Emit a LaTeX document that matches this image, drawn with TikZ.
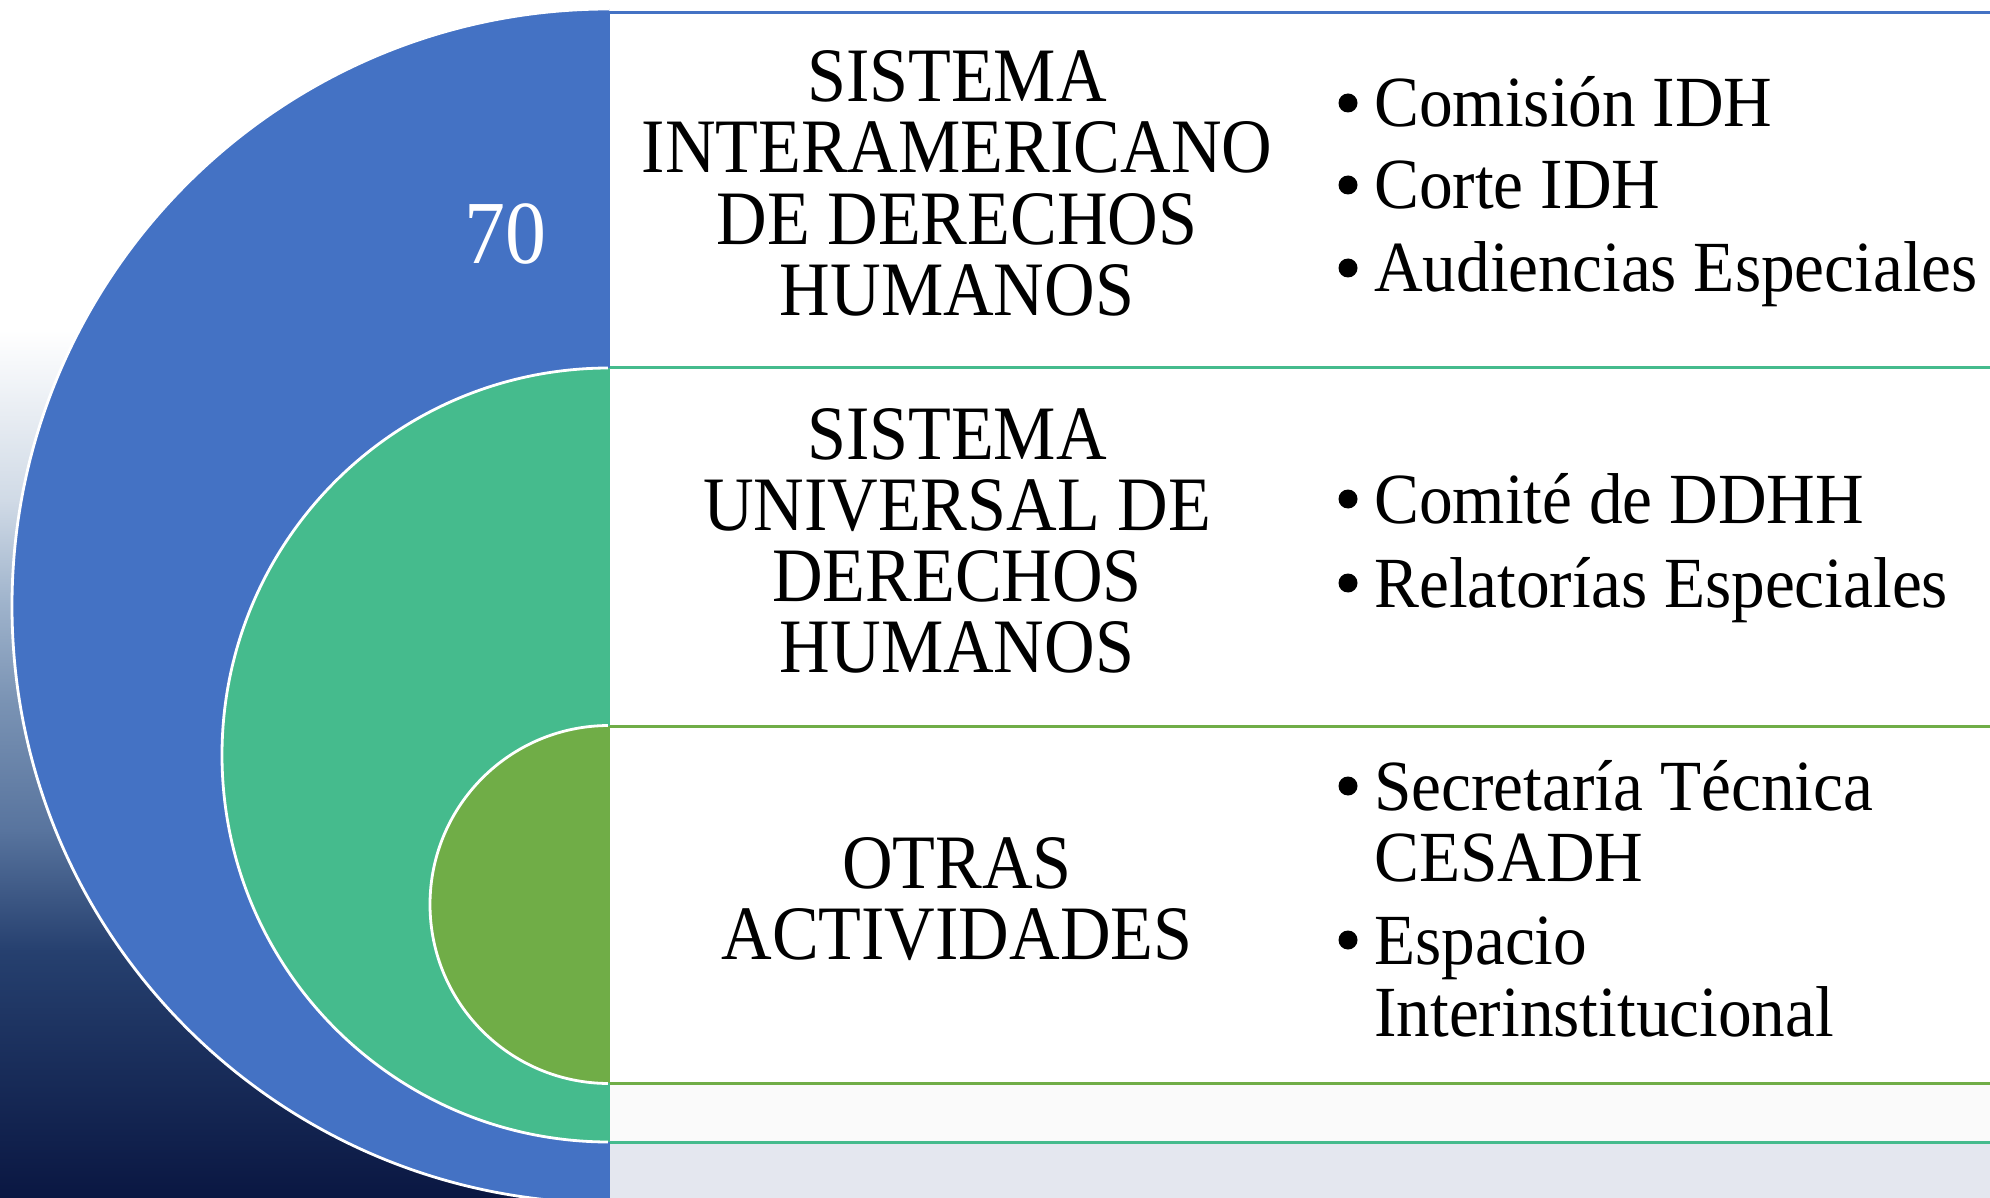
\documentclass[tikz,border=0pt]{standalone}
\usepackage{fontspec}
\setmainfont[FakeStretch=0.91]{Liberation Serif}
\newfontfamily\itemfont[FakeStretch=0.935]{Liberation Serif}
\definecolor{blueC}{HTML}{4472C4}
\definecolor{greenC}{HTML}{45BB8D}
\definecolor{oliveC}{HTML}{70AD47}
\definecolor{bgA}{HTML}{D0DAE6}
\definecolor{bgB}{HTML}{A0B4CC}
\definecolor{bgC}{HTML}{7A93B4}
\definecolor{bgD}{HTML}{58749E}
\definecolor{bgE}{HTML}{26406F}
\definecolor{bgF}{HTML}{0A1742}
\definecolor{bgR}{HTML}{E4E7EF}
\definecolor{bgS}{HTML}{FAFAFA}
\begin{document}
\begin{tikzpicture}[x=1pt,y=-1pt,
  head/.style={font=\fontsize{77}{71}\selectfont, anchor=base, inner sep=0pt},
  item/.style={font=\itemfont\fontsize{72}{71}\selectfont, anchor=base west, inner sep=0pt},
  dot/.style={circle, fill=black, minimum size=19pt, inner sep=0pt},
  ring/.style={draw=white, line width=2.8pt},
  rowline/.style={line width=3pt}]
\useasboundingbox (0,0) rectangle (1990,1198);

% background
\fill[white] (0,0) rectangle (610,331);
\shade[top color=white, bottom color=bgA] (0,330) rectangle (610,501);
\shade[top color=bgA, bottom color=bgB] (0,500) rectangle (610,601);
\shade[top color=bgB, bottom color=bgC] (0,600) rectangle (610,701);
\shade[top color=bgC, bottom color=bgD] (0,700) rectangle (610,831);
\shade[top color=bgD, bottom color=bgE] (0,830) rectangle (610,951);
\shade[top color=bgE, bottom color=bgF] (0,950) rectangle (610,1198);
\fill[bgR] (609,1142) rectangle (1990,1198);

% boxes
\fill[white] (609,12.7) rectangle (1990,1142);
\fill[bgS] (609,1083) rectangle (1990,1142);
\draw[blueC, rowline] (609,12.7) -- (1990,12.7);
\draw[greenC, rowline] (609,368) -- (1990,368);
\draw[oliveC, rowline] (609,726) -- (1990,726);
\draw[oliveC, rowline] (609,1083) -- (1990,1083);
\draw[greenC, rowline] (609,1142) -- (1990,1142);

% nested half discs
\begin{scope}
\clip (0,0) rectangle (609,1198);
\filldraw[fill=blueC, ring] (609,606) circle[radius=597];
\filldraw[fill=greenC, ring] (609,755) circle[radius=387];
\filldraw[fill=oliveC, ring] (609,904.5) circle[radius=179];
\end{scope}
\draw[blueC, line width=1.5pt] (609,12.7) -- (609,368);
\draw[greenC, line width=1.5pt] (609,368) -- (609,726);
\draw[oliveC, line width=1.5pt] (609,726) -- (609,1083);
\draw[greenC, line width=1.5pt] (609,1083) -- (609,1142);
\draw[blueC, line width=1.5pt] (609,1142) -- (609,1198);

% number
\node[font=\fontsize{90}{90}\selectfont, text=white, anchor=base, inner sep=0pt] (num) at (505,264) {70};

% headings
\node[head] (h1a) at (957,101.5) {SISTEMA};
\node[head] (h1b) at (957,173) {INTERAMERICANO};
\node[head] (h1c) at (957,244.5) {DE DERECHOS};
\node[head] (h1d) at (957,316) {HUMANOS};

\node[head] (h2a) at (957,459) {SISTEMA};
\node[head] (h2b) at (957,530) {UNIVERSAL DE};
\node[head] (h2c) at (957,601.5) {DERECHOS};
\node[head] (h2d) at (957,672.5) {HUMANOS};

\node[head] (h3a) at (957,888) {OTRAS};
\node[head] (h3b) at (957,959) {ACTIVIDADES};

% bullets
\node[dot] (d1) at (1348,103) {};
\node[item] (i1) at (1374,127) {Comisión IDH};
\node[dot] (d2) at (1348,185) {};
\node[item] (i2) at (1374,209) {Corte IDH};
\node[dot] (d3) at (1348,268) {};
\node[item] (i3) at (1374,292) {Audiencias Especiales};

\node[dot] (d4) at (1348,499) {};
\node[item] (i4) at (1374,523) {Comité de DDHH};
\node[dot] (d5) at (1348,583) {};
\node[item] (i5) at (1374,607) {Relatorías Especiales};

\node[dot] (d6) at (1348,786) {};
\node[item] (i6a) at (1374,810) {Secretaría Técnica};
\node[item] (i6b) at (1374,881) {CESADH};
\node[dot] (d7) at (1348,940) {};
\node[item] (i7a) at (1374,964) {Espacio};
\node[item] (i7b) at (1374,1036) {Interinstitucional};
\end{tikzpicture}
\end{document}
